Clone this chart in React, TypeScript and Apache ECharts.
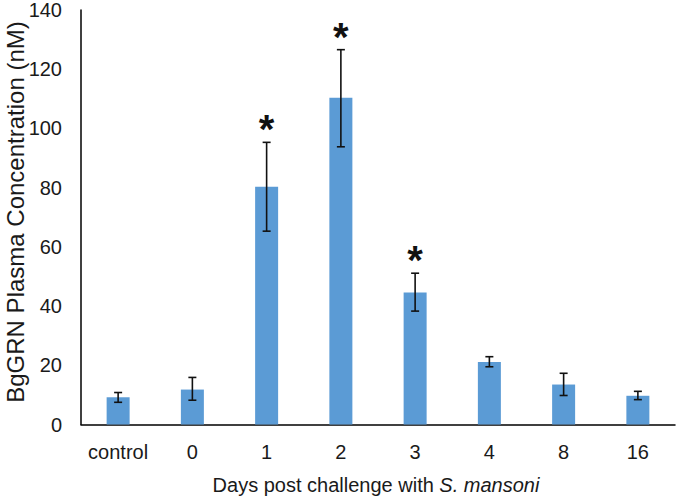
import React, { useEffect, useRef } from "react";
import * as echarts from "echarts";

const categories = ["control", "0", "1", "2", "3", "4", "8", "16"];
const means = [9.2, 11.8, 80.3, 110.4, 44.6, 21.1, 13.5, 9.7];
const errLow = [7.5, 8.2, 65.3, 93.8, 38.3, 19.5, 9.8, 8.4];
const errHigh = [10.8, 15.9, 95.3, 126.6, 51.1, 22.9, 17.3, 11.2];
const significant = [false, false, true, true, true, false, false, false];
const yTicks = { min: 0, max: 140, interval: 20 };

export default function App() {
  const ref = useRef<HTMLDivElement>(null);
  useEffect(() => {
    if (!ref.current) return;
    const chart = echarts.init(ref.current, null, { renderer: "svg" });
    const font = "'Liberation Sans', Arial, sans-serif";
    const errData = categories.map((c, i) => [i, errLow[i], errHigh[i]]);
    const starData = categories
      .map((c, i) => [i, errHigh[i]])
      .filter((d, i) => significant[i]);
    chart.setOption({
      animation: false,
      backgroundColor: "#ffffff",
      grid: { left: 81, right: 2, top: 8, bottom: 75.5, containLabel: false },
      xAxis: {
        type: "category",
        data: categories,
        axisLine: { lineStyle: { color: "#000", width: 1.5 } },
        axisTick: { show: false },
        axisLabel: { color: "#1a1a1a", fontSize: 20, fontFamily: font, margin: 17, interval: 0 },
      },
      yAxis: {
        type: "value",
        min: yTicks.min,
        max: yTicks.max,
        interval: yTicks.interval,
        axisLine: { show: true, lineStyle: { color: "#000", width: 1.5 } },
        axisTick: { show: false },
        splitLine: { show: false },
        axisLabel: { color: "#1a1a1a", fontSize: 20, fontFamily: font, margin: 19 },
      },
      series: [
        {
          type: "bar",
          data: means,
          barWidth: 23,
          itemStyle: { color: "#5B9BD5" },
        },
        {
          type: "custom",
          data: errData,
          z: 10,
          renderItem: (params: any, api: any) => {
            const x = api.value(0);
            const lo = api.coord([x, api.value(1)]);
            const hi = api.coord([x, api.value(2)]);
            const hw = 4;
            const style = { stroke: "#111", lineWidth: 1.6 };
            return {
              type: "group",
              children: [
                { type: "line", shape: { x1: lo[0], y1: lo[1], x2: hi[0], y2: hi[1] }, style },
                { type: "line", shape: { x1: hi[0] - hw, y1: hi[1], x2: hi[0] + hw, y2: hi[1] }, style },
                { type: "line", shape: { x1: lo[0] - hw, y1: lo[1], x2: lo[0] + hw, y2: lo[1] }, style },
              ],
            };
          },
        },
        {
          type: "custom",
          data: starData,
          z: 11,
          renderItem: (params: any, api: any) => {
            const x = api.value(0);
            const p = api.coord([x, api.value(1)]);
            return {
              type: "text",
              x: p[0],
              y: p[1] + 7,
              style: {
                text: "*",
                fontSize: 40,
                fontWeight: "bold",
                fontFamily: font,
                fill: "#111",
                align: "center",
                verticalAlign: "bottom",
              },
            };
          },
        },
      ],
      graphic: [
        {
          type: "text",
          x: 15,
          y: 212,
          rotation: Math.PI / 2,
          style: {
            text: "BgGRN Plasma Concentration (nM)",
            fontSize: 24,
            fontFamily: font,
            fill: "#1a1a1a",
            align: "center",
            verticalAlign: "middle",
          },
        },
        {
          type: "text",
          x: 376,
          y: 485,
          style: {
            text: "Days post challenge with {i|S. mansoni}",
            fontSize: 20,
            fontFamily: font,
            fill: "#1a1a1a",
            align: "center",
            verticalAlign: "middle",
            rich: { i: { fontStyle: "italic", fontSize: 20, fontFamily: font, fill: "#1a1a1a" } },
          },
        },
      ],
    });
    return () => chart.dispose();
  }, []);
  return (
    <div
      ref={ref}
      style={{ position: "fixed", left: 0, top: 0, width: 677, height: 500 }}
    />
  );
}
